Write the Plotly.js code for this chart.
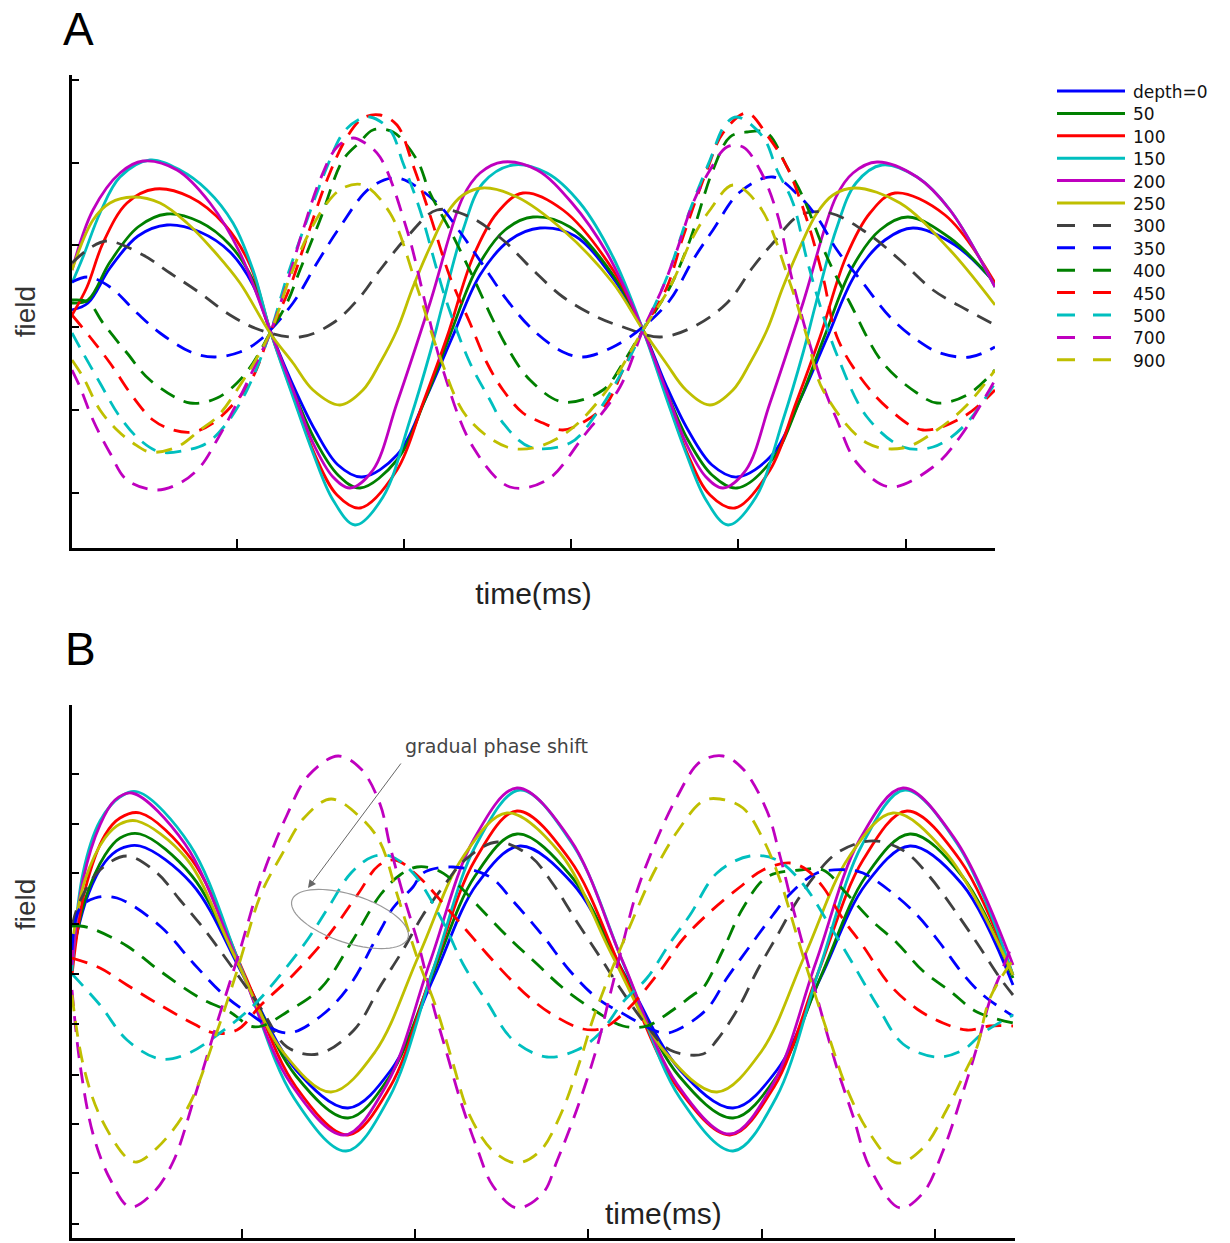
<!DOCTYPE html>
<html>
<head>
<meta charset="utf-8">
<script src="https://cdn.plot.ly/plotly-3.0.1.min.js"></script>
<style>html,body{margin:0;padding:0;background:#fff;}#chart{width:1230px;height:1243px;}</style>
</head>
<body>
<div id="chart"></div>
<script>
// ---------- series labels / styles ----------
const depthLabels = ['depth=0','50','100','150','200','250','300','350','400','450','500','700','900'];
const lineColors  = ['#0000ff','#008000','#ff0000','#00bfbf','#bf00bf','#bfbf00','#404040','#0000ff','#008000','#ff0000','#00bfbf','#bf00bf','#bfbf00'];
const isDashed    = [false,false,false,false,false,false,true,true,true,true,true,true,true];

// ---------- Panel A (time, field) ----------
const tA0   = [0,16,38,66,95,128,158,181,198,221,243,266,290,325,353,380,408,438,468,503,541,571,594,616,640,665,700,728,755,783,813,841,883,923];
const fA0   = [238,245,280,312,323,316,296,263,218,163,118,83,71,93,148,210,273,308,320,312,270,218,163,118,83,71,93,148,210,273,308,320,303,265];
const tA50  = [0,16,38,66,95,128,158,181,198,221,243,266,288,325,353,378,405,433,461,498,541,571,594,616,640,665,700,728,753,780,808,836,878,923];
const fA50  = [245,248,286,321,334,326,303,268,218,158,108,73,60,88,148,213,280,318,331,321,273,218,158,108,73,60,88,148,213,280,318,331,310,265];
const tA100 = [0,15,31,55,83,118,153,178,198,221,243,265,288,325,351,375,401,425,451,491,541,571,594,616,638,663,698,724,748,774,798,823,873,923];
const fA100 = [233,261,305,345,359,351,323,283,218,153,93,53,40,78,145,211,291,335,355,338,278,218,153,93,53,40,78,145,211,291,335,355,333,265];
const tA150 = [0,11,28,48,78,108,135,161,181,198,221,241,261,283,311,338,358,371,391,411,441,475,508,541,571,594,614,634,656,684,711,731,744,764,784,810,845,878,923];
const fA150 = [265,291,335,371,388,378,358,325,278,218,151,95,48,23,51,128,195,245,318,365,383,375,345,291,218,151,95,48,23,51,128,195,245,318,365,383,371,338,261];
const tA200 = [0,21,48,71,105,138,168,198,221,241,261,278,301,325,358,391,408,431,465,500,535,571,594,614,634,651,674,698,731,764,781,805,845,878,923];
const fA200 = [278,338,375,387,378,345,295,218,158,105,71,60,78,145,245,351,375,386,378,345,295,218,158,105,71,60,78,145,245,351,375,386,371,338,261];
const tA250 = [0,21,38,61,88,115,141,168,198,221,241,268,291,308,325,341,358,375,391,411,445,491,541,571,594,614,638,661,678,695,711,728,745,761,783,828,878,923];
const fA250 = [278,328,345,351,345,325,298,265,215,185,158,143,158,185,218,261,301,335,353,360,351,318,265,218,185,158,143,158,185,218,261,301,335,353,360,345,298,243];
const tA300 = [0,18,35,71,98,128,158,188,228,261,288,308,335,365,398,431,461,491,525,551,588,621,655,681,701,728,758,795,828,861,895,923];
const fA300 = [285,300,307,293,275,255,233,218,211,225,251,278,311,338,331,308,278,251,231,221,211,221,245,281,305,333,335,315,288,258,238,223];
const tA350 = [0,16,38,65,88,121,143,168,188,221,245,268,298,325,365,388,411,435,461,491,511,541,571,598,621,641,668,701,728,745,765,791,818,845,868,898,923];
const fA350 = [266,271,261,235,215,195,191,196,208,245,285,321,360,370,345,316,283,248,218,196,191,201,221,248,288,318,356,371,351,331,298,265,231,208,195,191,201];
const tA400 = [0,16,31,55,78,118,145,165,181,198,215,228,248,271,288,301,321,345,358,378,401,421,435,458,491,531,551,571,598,618,641,658,675,695,715,731,755,778,811,845,865,895,923];
const fA400 = [248,246,225,195,168,145,150,165,185,215,245,278,328,388,406,418,416,388,355,318,271,228,201,168,146,158,185,218,261,308,378,411,416,415,381,351,291,245,185,155,145,153,178];
const tA450 = [0,18,38,61,81,101,121,141,165,181,198,218,235,255,275,291,308,325,341,358,378,398,415,431,451,471,491,515,535,551,571,595,611,635,651,675,695,715,735,751,765,788,818,851,891,923];
const fA450 = [233,211,185,151,128,118,116,125,148,171,215,261,311,368,411,430,433,423,383,333,271,225,185,158,135,125,118,128,145,178,218,261,311,378,415,435,413,381,328,271,211,171,138,118,131,158];
const tA500 = [0,11,28,48,68,88,115,135,155,175,198,215,235,255,271,286,298,318,331,348,365,375,398,418,431,458,498,525,551,571,595,618,638,653,665,691,705,721,735,751,765,795,831,861,891,923];
const fA500 = [215,195,165,131,108,96,98,105,125,158,215,271,328,381,415,428,431,418,385,338,278,245,185,148,125,101,105,135,178,218,271,338,388,423,431,411,378,345,288,233,193,131,101,101,121,165];
const tA700 = [0,8,21,38,55,85,108,128,145,165,181,198,215,231,248,265,281,293,308,335,355,371,401,438,475,511,548,571,591,605,621,638,655,671,688,705,721,748,765,785,818,861,888,923];
const fA700 = [178,161,128,95,68,58,65,81,108,145,178,215,265,318,368,401,410,405,391,318,238,178,101,61,68,111,161,218,261,298,345,378,401,401,378,335,265,171,128,85,61,81,111,168];
const tA900 = [0,11,28,45,61,78,105,128,145,165,198,218,235,255,271,291,318,345,368,395,435,465,498,535,571,598,621,638,661,688,718,735,751,795,831,865,895,923];
const fA900 = [188,171,138,118,105,96,101,118,131,158,215,271,311,345,360,363,335,261,191,131,101,101,118,158,218,261,311,338,363,341,265,211,158,105,100,118,143,178];

// ---------- Panel B (time, field) ----------
const tB0   = [0,16,33,48,68,120,172,224,276,319,362,405,448,501,554,608,661,705,749,794,838,890,941];
const fB0   = [283,343,376,389,392,354,261,168,130,168,261,354,392,354,261,168,130,168,261,354,392,354,253];
const tB50  = [0,13,33,48,68,120,172,224,276,318,360,403,445,499,553,607,661,705,749,794,838,890,941];
const fB50  = [278,338,383,400,404,362,262,162,120,162,262,362,404,362,262,162,120,162,262,362,404,362,260];
const tB100 = [0,13,33,48,68,120,172,224,276,318,360,403,445,498,551,605,658,702,746,791,835,888,941];
const fB100 = [263,348,403,420,425,378,265,151,103,151,265,378,427,378,265,151,103,151,265,378,427,378,263];
const tB150 = [0,11,28,48,66,118,170,222,274,317,361,404,448,501,554,608,661,704,747,790,833,886,941];
const fB150 = [267,365,417,441,446,393,268,140,87,140,268,393,448,393,268,140,87,140,268,393,448,393,263];
const tB200 = [0,11,28,43,60,113,166,219,272,315,358,402,445,498,551,605,658,701,744,788,831,883,941];
const fB200 = [273,358,413,438,445,394,276,154,103,154,276,399,450,399,276,154,104,154,276,399,450,399,273];
const tB250 = [0,13,33,48,65,114,162,211,259,303,347,391,435,488,540,593,645,689,733,777,821,874,941];
const fB250 = [293,358,400,414,417,380,283,186,146,186,283,381,425,385,283,186,146,186,283,381,425,385,263];
const tB300 = [0,8,28,55,85,108,132,165,190,215,246,282,309,331,351,371,393,425,458,481,505,528,548,575,598,631,645,668,685,705,725,745,765,791,811,835,858,881,905,928,941];
const fB300 = [312,337,368,382,365,338,309,264,228,191,184,208,253,288,323,351,378,396,382,354,316,281,250,212,188,184,198,233,267,302,337,365,385,396,396,385,361,330,295,260,243];
const tB350 = [0,8,23,45,88,122,152,175,215,249,278,309,321,341,351,381,418,441,471,498,525,548,591,605,635,655,678,701,718,745,778,791,818,845,868,891,911,941];
const fB350 = [288,330,340,340,312,274,243,226,205,222,253,309,330,351,365,371,361,337,302,267,240,226,205,208,229,260,292,323,344,365,368,365,347,323,295,264,243,222];
const tB400 = [0,8,21,55,88,128,158,178,190,215,249,279,309,328,345,365,386,408,438,465,491,525,551,575,598,621,631,651,671,695,728,751,775,798,825,851,878,905,941];
const fB400 = [312,312,309,292,267,240,226,212,212,226,250,295,344,363,371,368,353,330,299,274,250,226,212,212,226,243,250,288,330,361,368,368,344,319,295,267,247,226,215];
const tB450 = [0,28,55,88,122,142,165,189,222,256,286,306,323,348,375,395,415,441,458,478,511,531,555,588,611,638,668,691,718,735,751,771,791,818,845,871,895,918,941];
const fB450 = [280,270,253,233,214,205,208,233,264,302,344,372,378,360,330,307,284,256,240,225,209,210,228,267,299,326,351,368,375,368,351,319,292,253,229,215,208,212,212];
const tB500 = [0,28,55,88,115,148,182,209,236,256,279,300,318,341,371,391,415,441,475,505,528,551,575,598,618,645,678,705,731,758,781,805,831,865,891,911,941];
const fB500 = [264,233,198,179,184,205,233,264,299,330,365,381,382,365,316,274,236,198,181,188,205,236,260,295,323,365,382,378,354,312,274,233,194,181,188,205,223];
const tB700 = [0,8,21,38,58,81,101,122,145,168,189,215,236,266,289,308,318,331,348,361,375,388,405,421,445,471,485,505,525,538,551,565,585,605,628,651,671,695,708,721,738,751,765,781,798,828,851,871,891,905,918,928,941];
const fB700 = [248,174,104,59,31,45,76,139,215,288,358,423,462,482,469,434,392,344,288,233,184,139,90,52,30,45,77,129,191,243,295,347,399,441,476,482,469,427,382,330,267,219,170,122,70,30,45,87,146,191,238,263,295];
const tB900 = [0,11,28,55,65,85,115,142,165,189,209,232,259,289,308,325,345,365,380,398,421,445,468,488,508,521,538,558,581,605,631,648,671,691,708,725,741,758,775,798,825,851,875,895,905,918,941];
const fB900 = [243,174,122,80,76,90,129,198,267,344,382,420,439,420,396,344,281,228,178,122,87,75,87,122,177,219,264,312,364,406,437,439,430,399,358,302,250,198,149,104,75,90,129,170,191,240,278];

// ---------- axis ticks (no labels in the original) ----------
const tickAx = [0,165,332,499,666,834];
const tickAy = [55,138,221,303,385,468];
const tickBx = [0,170,343,516,690,863];
const tickBy = [14,65,114,163,214,264,314,365,414,464];

const panelA = [[tA0,fA0],[tA50,fA50],[tA100,fA100],[tA150,fA150],[tA200,fA200],[tA250,fA250],[tA300,fA300],[tA350,fA350],[tA400,fA400],[tA450,fA450],[tA500,fA500],[tA700,fA700],[tA900,fA900]];
const panelB = [[tB0,fB0],[tB50,fB50],[tB100,fB100],[tB150,fB150],[tB200,fB200],[tB250,fB250],[tB300,fB300],[tB350,fB350],[tB400,fB400],[tB450,fB450],[tB500,fB500],[tB700,fB700],[tB900,fB900]];

const W = 1230, H = 1243;
const traces = [];
function addPanel(panel, xa, ya) {
  panel.forEach((p, i) => {
    traces.push({
      type: 'scatter', mode: 'lines', x: p[0], y: p[1],
      xaxis: xa, yaxis: ya, name: depthLabels[i], legendgroup: depthLabels[i],
      showlegend: false, hoverinfo: 'skip',
      line: {color: lineColors[i], width: 2.8, shape: 'spline', smoothing: 1,
             dash: isDashed[i] ? '16px,10px' : 'solid'}
    });
  });
}
addPanel(panelA, 'x', 'y');
addPanel(panelB, 'x2', 'y2');

const axisStyle = {showgrid:false, zeroline:false, showline:true, linecolor:'#000', linewidth:3,
  ticks:'inside', tickcolor:'#000', tickwidth:2, showticklabels:false, fixedrange:true};

const shapes = [];
const annotations = [];

// legend for panel A (line samples + labels)
depthLabels.forEach((lab, i) => {
  const yc = 91 + i * 22.4;
  shapes.push({type:'line', xref:'paper', yref:'paper', x0:1057/W, x1:1125/W, y0:1-yc/H, y1:1-yc/H,
    line:{color:lineColors[i], width:3, dash: isDashed[i] ? '18px,18px' : 'solid'}});
  annotations.push({xref:'paper', yref:'paper', x:1131/W, y:1-(yc+1)/H, xanchor:'left', yanchor:'middle',
    text:lab, showarrow:false,
    font:{family:'"DejaVu Sans", "Liberation Sans", sans-serif', size:17, color:'#111'}});
});

// panel letters
annotations.push({xref:'paper', yref:'paper', x:78/W, y:1-29/H, text:'A', showarrow:false,
  xanchor:'center', yanchor:'middle', font:{size:46, color:'#000'}});
annotations.push({xref:'paper', yref:'paper', x:80/W, y:1-649/H, text:'B', showarrow:false,
  xanchor:'center', yanchor:'middle', font:{size:46, color:'#000'}});

// panel B axis labels
annotations.push({xref:'paper', yref:'paper', x:25/W, y:1-905/H, text:'field', textangle:-90, showarrow:false,
  xanchor:'center', yanchor:'middle', font:{size:28, color:'#333'}});
annotations.push({xref:'paper', yref:'paper', x:663/W, y:1-1213/H, text:'time(ms)', showarrow:false,
  xanchor:'center', yanchor:'middle', font:{size:30, color:'#222'}});

// gradual phase shift note
annotations.push({xref:'x2', yref:'y2', x:331, y:492, text:'gradual phase shift', showarrow:false,
  xanchor:'left', yanchor:'middle', font:{family:'"DejaVu Sans", sans-serif', size:19, color:'#444'}});
annotations.push({xref:'x2', yref:'y2', x:236, y:350, axref:'x2', ayref:'y2', ax:330, ay:476,
  text:'', showarrow:true, arrowhead:2, arrowsize:1.6, arrowwidth:1, arrowcolor:'#666', standoff:0});

// ellipse outline around the phase-shifting dashes
(function(){
  const cx = 278, cy = 319, a = 61, b = 24, phi = -18 * Math.PI / 180;
  let d = '';
  for (let k = 0; k <= 72; k++) {
    const th = 2 * Math.PI * k / 72;
    const x = cx + a * Math.cos(th) * Math.cos(phi) - b * Math.sin(th) * Math.sin(phi);
    const y = cy + a * Math.cos(th) * Math.sin(phi) + b * Math.sin(th) * Math.cos(phi);
    d += (k ? 'L' : 'M') + x.toFixed(2) + ',' + y.toFixed(2);
  }
  d += 'Z';
  shapes.push({type:'path', xref:'x2', yref:'y2', path:d, line:{color:'#999', width:1.2}});
})();

const layout = {
  width: W, height: H, margin: {l:0, r:0, t:0, b:0},
  paper_bgcolor: '#fff', plot_bgcolor: '#fff', showlegend: false,
  font: {family: '"Liberation Sans", Arial, sans-serif', color: '#222'},
  xaxis: Object.assign({}, axisStyle, {domain:[72/W, 995/W], range:[0, 923], anchor:'y', tickvals:tickAx, ticklen:9,
    title:{text:'time(ms)', font:{size:30, color:'#222'}, standoff:33}}),
  yaxis: Object.assign({}, axisStyle, {domain:[(H-548)/H, (H-75)/H], range:[0, 473], anchor:'x', tickvals:tickAy, ticklen:7,
    title:{text:'field', font:{size:28, color:'#333'}, standoff:26}}),
  xaxis2: Object.assign({}, axisStyle, {domain:[72/W, 1015/W], range:[0, 943], anchor:'y2', tickvals:tickBx, ticklen:9}),
  yaxis2: Object.assign({}, axisStyle, {domain:[(H-1238)/H, (H-705)/H], range:[0, 533], anchor:'x2', tickvals:tickBy, ticklen:7}),
  shapes: shapes,
  annotations: annotations
};

Plotly.newPlot('chart', traces, layout, {staticPlot:true, displayModeBar:false});
</script>
</body>
</html>
